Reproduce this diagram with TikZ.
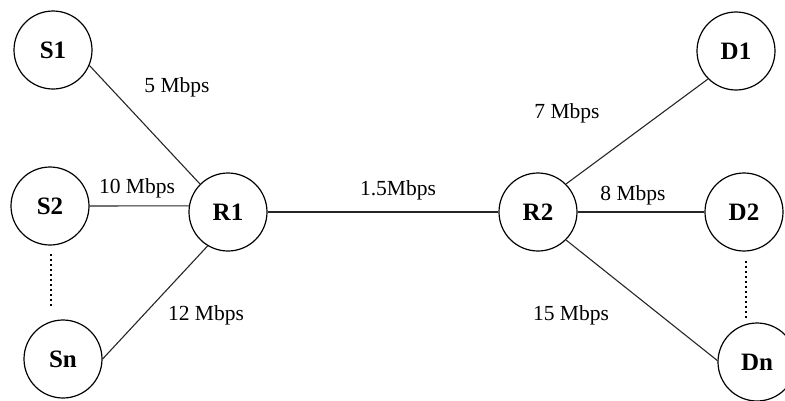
\documentclass[tikz,border=0pt]{standalone}
\usepackage{fontspec}
\setmainfont{Liberation Serif}
\begin{document}
\begin{tikzpicture}[x=1pt,y=-1pt,
  host/.style={circle,draw,line width=1.2pt,minimum size=78pt,inner sep=0pt,font=\fontsize{25}{25}\selectfont\bfseries},
  link/.style={line width=1.1pt,draw=black!85},
  rate/.style={inner sep=0pt,font=\fontsize{21.5}{21.5}\selectfont},
  dots/.style={line width=2.6pt,dash pattern=on 2.4pt off 2.6pt}]
\useasboundingbox (0,0) rectangle (785,400);
\clip (0,0) rectangle (785,400);
\node[host] (S1) at (53,50) {S1};
\node[host] (S2) at (50,206) {S2};
\node[host] (Sn) at (63,359) {Sn};
\node[host] (R1) at (228,212) {R1};
\node[host] (R2) at (538,212) {R2};
\node[host] (D1) at (736,51) {D1};
\node[host] (D2) at (744,212) {D2};
\node[host] (Dn) at (757,362) {Dn};
\draw[link] (S1.-23) -- (R1.135);
\draw[link] (S2.east) -- (R1.171);
\draw[link] (R1.-121) -- (Sn.east);
\draw[link] (R1.east) -- (R2.west);
\draw[link] (R2.45) -- (D1.225);
\draw[link] (R2.east) -- (D2.west);
\draw[link] (R2.-45) -- (Dn.178);
\coordinate (sa) at (51,254);
\coordinate (sb) at (51,308);
\coordinate (da) at (746,261);
\coordinate (db) at (746,319);
\draw[dots] (sa) -- (sb);
\draw[dots] (da) -- (db);
\node[rate] (l5) at (177,87) {5 Mbps};
\node[rate] (l10) at (137,188) {10 Mbps};
\node[rate] (l12) at (206,315) {12 Mbps};
\node[rate] (l15a) at (398,190) {1.5Mbps};
\node[rate] (l7) at (567,113) {7 Mbps};
\node[rate] (l8) at (633,195) {8 Mbps};
\node[rate] (l15) at (571,315) {15 Mbps};
\end{tikzpicture}
\end{document}
